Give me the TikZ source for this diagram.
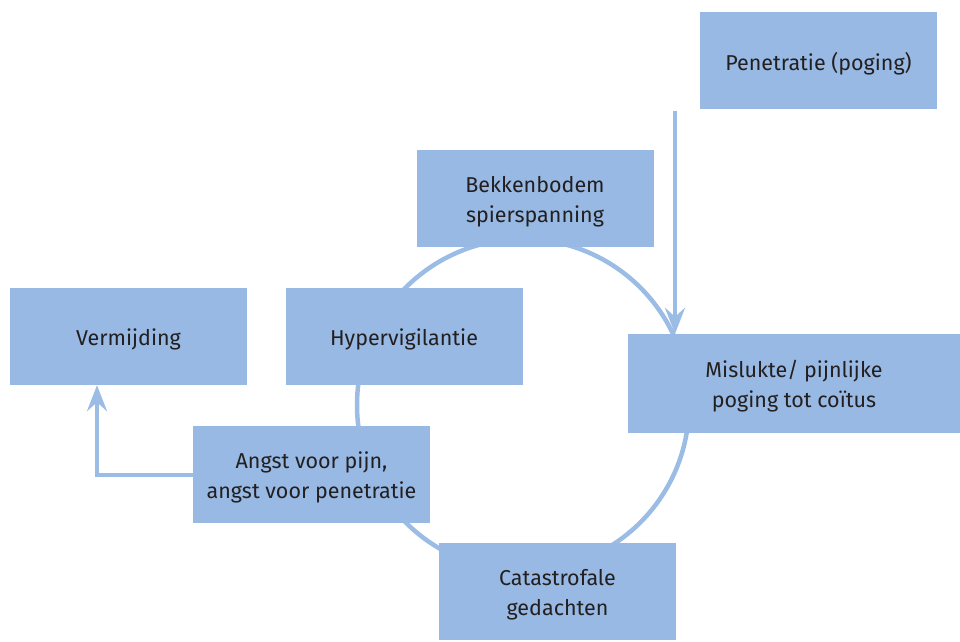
\documentclass[tikz,border=0pt]{standalone}
\usepackage{fontspec}
\setmainfont{Fira Sans}
\usetikzlibrary{arrows.meta}
\definecolor{boxblue}{RGB}{151,185,227}
\definecolor{lineblue}{RGB}{155,188,228}
\definecolor{txt}{RGB}{35,31,32}
\tikzset{
  box/.style={fill=boxblue, draw=none, minimum width=237pt, minimum height=97pt,
    inner sep=0pt, align=center, text=txt, font=\fontsize{21.5pt}{30pt}\selectfont},
  boxtext/.style={box, fill=none, yshift=-3pt},
  link/.style={draw=lineblue, line width=4.5pt},
  arr/.style={link, -{Stealth[length=26pt,width=20pt,inset=9pt]}}
}
\begin{document}
\begin{tikzpicture}[x=1pt,y=-1pt]
\useasboundingbox (0,0) rectangle (960,641);
\draw[link] (523,405) circle[radius=166];
\node[box] (pen) at (818.5,60.5) {};
\node[box] (bek) at (535,198.5) {};
\node[box] (verm) at (128.5,336.5) {};
\node[box] (hyp) at (404,336.5) {};
\node[box, minimum width=332pt, minimum height=99pt] (misl) at (794,383.5) {};
\node[box] (angst) at (311.5,474.5) {};
\node[box] (cat) at (557.5,591.5) {};
\node[boxtext] (pent) at (pen) {Penetratie (poging)};
\node[boxtext] (bekt) at (bek) {Bekkenbodem\\spierspanning};
\node[boxtext] (vermt) at (verm) {Vermijding};
\node[boxtext] (hypt) at (hyp) {Hypervigilantie};
\node[boxtext] (mislt) at (misl) {Mislukte/ pijnlijke\\poging tot coïtus};
\node[boxtext] (angstt) at (angst) {Angst voor pijn,\\angst voor penetratie};
\node[boxtext] (catt) at (cat) {Catastrofale\\gedachten};
\coordinate (penstart) at (675,111);
\coordinate (corner) at (97,475);
\draw[arr] (penstart) -- (penstart |- misl.north);
\draw[arr] (angst.west |- corner) -- (corner) -- (corner |- verm.south);
\end{tikzpicture}
\end{document}
